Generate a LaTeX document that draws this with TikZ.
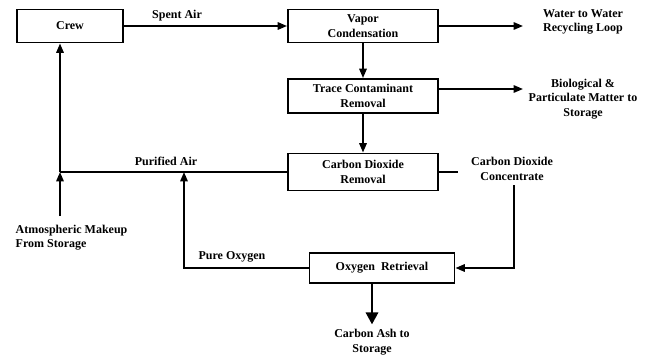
\documentclass[tikz,border=0pt]{standalone}
\usepackage{fontspec}
\setmainfont{Liberation Serif}
\usepackage{tikz}
\usetikzlibrary{calc,arrows.meta}
\tikzset{
  unit/.style={draw, line width=1.4pt, align=center, inner sep=2pt},
  flow/.style={-{Triangle[length=7pt,width=5.5pt]}, line width=1.4pt},
  pipe/.style={line width=1.4pt},
  bigflow/.style={-{Triangle[length=9pt,width=9pt]}, line width=2.2pt},
  lab/.style={font=\bfseries\fontsize{9}{11}\selectfont, align=center},
  note/.style={font=\bfseries\fontsize{9}{11}\selectfont, align=left}
}

\begin{document}
\begin{tikzpicture}[x=0.75pt, y=-0.75pt]
  \useasboundingbox (0,0) rectangle (665,358);

  % processing units
  \node[unit, lab, minimum width=106*0.75pt, minimum height=33*0.75pt] (crew) at (70,26) {Crew};
  \node[unit, lab, minimum width=150*0.75pt, minimum height=33*0.75pt] (vapor) at (363,26) {Vapor\\Condensation};
  \node[unit, lab, minimum width=150*0.75pt, minimum height=34*0.75pt] (trace) at (363,96) {Trace Contaminant\\Removal};
  \node[unit, lab, minimum width=150*0.75pt, minimum height=37*0.75pt] (codos) at (363,172) {Carbon Dioxide\\Removal};
  \node[unit, lab, minimum width=145*0.75pt, minimum height=30*0.75pt] (oxyret) at (382,268) {Oxygen\ \ Retrieval};

  % outlets and labels
  \coordinate (waterend) at (523,26);
  \coordinate (bioend) at (523,89);
  \coordinate (concend) at (458,172);
  \coordinate (join) at (60,172);
  \coordinate (pureup) at (184,172);
  \coordinate (makeup) at (60,216);
  \node[lab] (water) at (583,22) {Water to Water\\Recycling Loop};
  \node[lab] (bio) at (583,99) {Biological \&\\Particulate Matter to\\Storage};
  \node[lab] (conc) at (512,169) {Carbon Dioxide\\Concentrate};
  \node[note, anchor=north west] (atmos) at (11,220) {Atmospheric Makeup\\From Storage};
  \node[lab] (ash) at (372,342) {Carbon Ash to\\Storage};
  \node[lab] (spent) at (177,16) {Spent Air};
  \node[lab] (purified) at (166,161) {Purified Air};
  \node[lab] (pure) at (232,257) {Pure Oxygen};

  % connectors
  \draw[flow] (crew.east) -- (vapor.west);
  \draw[flow] (vapor.east) -- (waterend);
  \draw[flow] (vapor.south) -- (trace.north);
  \draw[flow] (trace.east |- bioend) -- (bioend);
  \draw[flow] (trace.south) -- (codos.north);
  \draw[pipe] (codos.east) -- (concend);
  \draw[flow] (conc.south -| 514,0) |- (oxyret.east);
  \draw[pipe] (codos.west) -- (join);
  \draw[flow] (oxyret.west) -| (pureup);
  \draw[flow] (makeup) -- (join);
  \draw[flow] (join) -- (join |- crew.south);
  \draw[bigflow] (ash.north |- oxyret.south) -- (ash.north);
\end{tikzpicture}
\end{document}
